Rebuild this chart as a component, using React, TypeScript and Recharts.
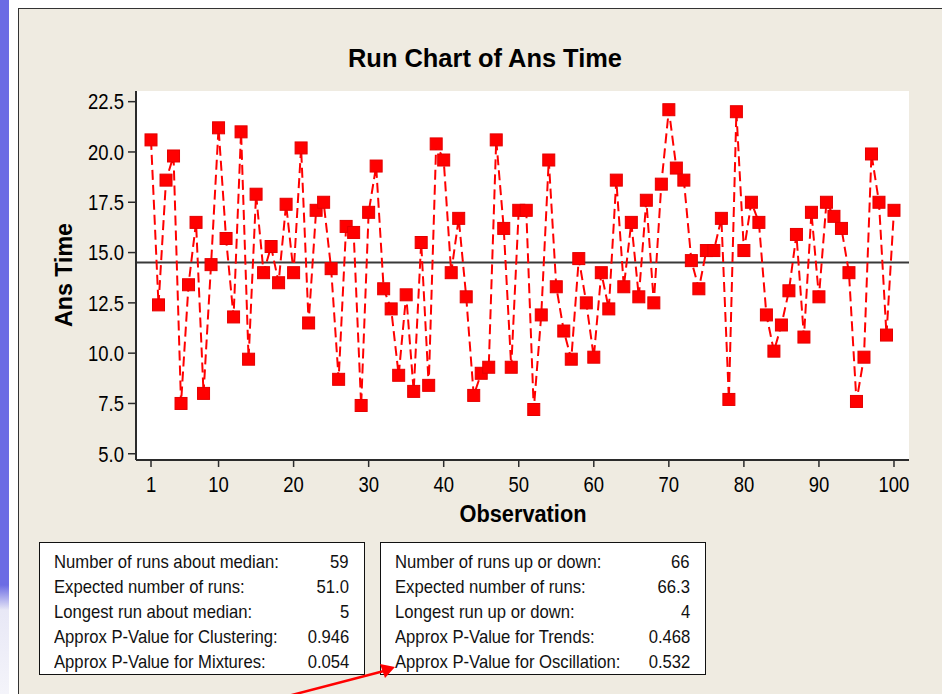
import { CartesianGrid, Line, LineChart, ReferenceLine, XAxis, YAxis } from "recharts";

const OBSERVATIONS = Array.from({ length: 100 }, (_, i) => i + 1);

const ANS_TIME = [
  20.6, 12.4, 18.6, 19.8, 7.5, 13.4, 16.5, 8.0, 14.4, 21.2,
  15.7, 11.8, 21.0, 9.7, 17.9, 14.0, 15.3, 13.5, 17.4, 14.0,
  20.2, 11.5, 17.1, 17.5, 14.2, 8.7, 16.3, 16.0, 7.4, 17.0,
  19.3, 13.2, 12.2, 8.9, 12.9, 8.1, 15.5, 8.4, 20.4, 19.6,
  14.0, 16.7, 12.8, 7.9, 9.0, 9.3, 20.6, 16.2, 9.3, 17.1,
  17.1, 7.2, 11.9, 19.6, 13.3, 11.1, 9.7, 14.7, 12.5, 9.8,
  14.0, 12.2, 18.6, 13.3, 16.5, 12.8, 17.6, 12.5, 18.4, 22.1,
  19.2, 18.6, 14.6, 13.2, 15.1, 15.1, 16.7, 7.7, 22.0, 15.1,
  17.5, 16.5, 11.9, 10.1, 11.4, 13.1, 15.9, 10.8, 17.0, 12.8,
  17.5, 16.8, 16.2, 14.0, 7.6, 9.8, 19.9, 17.5, 10.9, 17.1,
];

const X_TICKS = [1, 10, 20, 30, 40, 50, 60, 70, 80, 90, 100];
const Y_TICKS = [5, 7.5, 10, 12.5, 15, 17.5, 20, 22.5];

const MEDIAN_LABELS = [
  "Number of runs about median:",
  "Expected number of runs:",
  "Longest run about median:",
  "Approx P-Value for Clustering:",
  "Approx P-Value for Mixtures:",
];
const MEDIAN_VALUES = ["59", "51.0", "5", "0.946", "0.054"];

const UPDOWN_LABELS = [
  "Number of runs up or down:",
  "Expected number of runs:",
  "Longest run up or down:",
  "Approx P-Value for Trends:",
  "Approx P-Value for Oscillation:",
];
const UPDOWN_VALUES = ["66", "66.3", "4", "0.468", "0.532"];

const data = OBSERVATIONS.map((obs, i) => ({ obs, value: ANS_TIME[i] }));

const sorted = [...ANS_TIME].sort((a, b) => a - b);
const median = (sorted[49] + sorted[50]) / 2;

const FONT = "'Liberation Sans', Arial, sans-serif";
const BEIGE = "#efebe1";
const FRAME = "#2b2b2b";
const NARROW = 0.84;

function XTick(props: any) {
  const { x, y, payload } = props;
  return (
    <g transform={`translate(${x},${y})`}>
      <text
        transform={`scale(${NARROW},1)`}
        textAnchor="middle"
        dy="0.71em"
        fontFamily={FONT}
        fontSize={22}
        fill="#000"
      >
        {payload.value}
      </text>
    </g>
  );
}

function YTick(props: any) {
  const { x, y, payload } = props;
  return (
    <g transform={`translate(${x},${y})`}>
      <text
        transform={`scale(${NARROW},1)`}
        textAnchor="end"
        dy="0.355em"
        fontFamily={FONT}
        fontSize={22}
        fill="#000"
      >
        {Number(payload.value).toFixed(1)}
      </text>
    </g>
  );
}

function SquareDot(props: any) {
  const { cx, cy, index } = props;
  if (cx == null || cy == null) return null;
  return (
    <rect
      key={"dot-" + index}
      x={cx - 6}
      y={cy - 6}
      width={12}
      height={12}
      fill="#ff0000"
      stroke="#e40000"
      strokeWidth={1}
    />
  );
}

function StatsBox({ left, labels, values }: { left: number; labels: string[]; values: string[] }) {
  return (
    <div
      style={{
        position: "absolute",
        left,
        top: 542,
        width: 326,
        height: 133,
        background: "#fff",
        border: "1.5px solid #111",
        boxSizing: "border-box",
        fontFamily: FONT,
        fontSize: 18.5,
        color: "#111",
        whiteSpace: "nowrap",
      }}
    >
      {labels.map((lab, i) => (
        <div
          key={lab}
          style={{
            position: "absolute",
            left: 14,
            right: 15,
            top: 8 + i * 25,
            height: 22,
            lineHeight: "22px",
          }}
        >
          <span
            style={{
              position: "absolute",
              left: 0,
              transform: "scaleX(0.9)",
              transformOrigin: "left center",
            }}
          >
            {lab}
          </span>
          <span
            style={{
              position: "absolute",
              right: 0,
              transform: "scaleX(0.9)",
              transformOrigin: "right center",
            }}
          >
            {values[i]}
          </span>
        </div>
      ))}
    </div>
  );
}

export default function App() {
  return (
    <div
      style={{
        position: "absolute",
        left: 0,
        top: 0,
        width: 942,
        height: 694,
        background: "#fff",
        overflow: "hidden",
      }}
    >
      {/* slide stripe + panel */}
      <div
        style={{
          position: "absolute",
          left: 0,
          top: 0,
          width: 9,
          height: 694,
          background: "linear-gradient(#6c6ce4 0, #6c6ce4 585px, #e8e8f6 610px, #f4f4fa 694px)",
        }}
      />
      <div
        style={{
          position: "absolute",
          left: 18,
          top: 8,
          width: 940,
          height: 700,
          background: BEIGE,
          borderLeft: "1.5px solid #333",
          borderTop: "1.5px solid #333",
        }}
      />

      <div style={{ position: "absolute", left: 0, top: 0 }}>
        <LineChart
          width={942}
          height={694}
          data={data}
          margin={{ top: 91, right: 33, bottom: 194, left: 76 }}
        >
          <CartesianGrid fill="#fff" horizontal={false} vertical={false} />
          <XAxis
            dataKey="obs"
            type="number"
            domain={[-1, 102]}
            ticks={X_TICKS}
            allowDataOverflow
            height={40}
            tickSize={7}
            tickMargin={9}
            tick={XTick}
            axisLine={{ stroke: FRAME, strokeWidth: 2 }}
            tickLine={{ stroke: FRAME, strokeWidth: 1.5 }}
          />
          <XAxis
            xAxisId="top"
            orientation="top"
            type="number"
            domain={[-1, 102]}
            height={0}
            tick={false}
            tickLine={false}
            axisLine={{ stroke: FRAME, strokeWidth: 2 }}
          />
          <YAxis
            type="number"
            domain={[4.69, 23.03]}
            ticks={Y_TICKS}
            allowDataOverflow
            width={60}
            tickSize={8}
            tickMargin={4}
            tick={YTick}
            axisLine={{ stroke: FRAME, strokeWidth: 2 }}
            tickLine={{ stroke: FRAME, strokeWidth: 1.5 }}
          />
          <YAxis
            yAxisId="right"
            orientation="right"
            type="number"
            domain={[4.69, 23.03]}
            width={0}
            tick={false}
            tickLine={false}
            axisLine={{ stroke: FRAME, strokeWidth: 2 }}
          />
          <ReferenceLine y={median} stroke="#3a3a3a" strokeWidth={2} />
          <Line
            type="linear"
            dataKey="value"
            stroke="#ff0000"
            strokeWidth={2}
            strokeDasharray="10 5"
            dot={SquareDot}
            activeDot={false}
            isAnimationActive={false}
          />
        </LineChart>
      </div>

      <StatsBox left={39} labels={MEDIAN_LABELS} values={MEDIAN_VALUES} />
      <StatsBox left={380} labels={UPDOWN_LABELS} values={UPDOWN_VALUES} />

      <svg
        width={942}
        height={694}
        style={{ position: "absolute", left: 0, top: 0, pointerEvents: "none" }}
      >
        <text
          x={485}
          y={67}
          textAnchor="middle"
          fontFamily={FONT}
          fontWeight="bold"
          fontSize={25}
          textLength={274}
          lengthAdjust="spacingAndGlyphs"
          fill="#000"
        >
          Run Chart of Ans Time
        </text>
        <text
          x={523}
          y={521.5}
          textAnchor="middle"
          fontFamily={FONT}
          fontWeight="bold"
          fontSize={23}
          textLength={127}
          lengthAdjust="spacingAndGlyphs"
          fill="#000"
        >
          Observation
        </text>
        <text
          transform="translate(72,275) rotate(-90)"
          textAnchor="middle"
          fontFamily={FONT}
          fontWeight="bold"
          fontSize={23}
          textLength={104}
          lengthAdjust="spacingAndGlyphs"
          fill="#000"
        >
          Ans Time
        </text>
        <line x1={288} y1={696} x2={384} y2={671} stroke="#ff0000" strokeWidth={2.5} />
        <polygon points="395,667 380,664 385,678" fill="#ff0000" />
      </svg>
    </div>
  );
}
